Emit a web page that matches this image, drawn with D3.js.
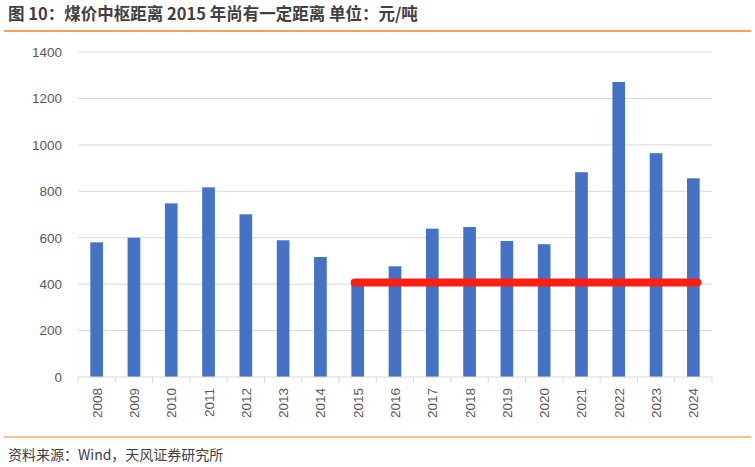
<!DOCTYPE html>
<html>
<head>
<meta charset="utf-8">
<script src="https://cdn.jsdelivr.net/npm/d3@7"></script>
<style>
  body { margin: 0; background: #fff; }
  text { font-family: "Liberation Sans", "Noto Sans CJK SC", sans-serif; }
  .cjk { font-family: "Noto Sans CJK SC", sans-serif; }
</style>
</head>
<body>
<svg id="chart" width="755" height="467"></svg>
<script>
// data
const years = ['2008', '2009', '2010', '2011', '2012', '2013', '2014', '2015', '2016',
  '2017', '2018', '2019', '2020', '2021', '2022', '2023', '2024']
const prices = [580, 600, 748, 817, 701, 589, 517, 407, 477, 639, 646, 586, 572, 882, 1271, 964, 856]
const yTicks = [0, 200, 400, 600, 800, 1000, 1200, 1400]
// reference level: 2015 price, drawn from 2015 to 2024
const refYears = years.slice(7)
const refLevel = 407

const svg = d3.select('#chart')
const margin = { top: 52, right: 43, bottom: 90, left: 78 }
const W = 755, H = 467
const innerW = W - margin.left - margin.right
const innerH = H - margin.top - margin.bottom

// title + orange rules
svg.append('text')
  .attr('class', 'cjk')
  .attr('x', 8).attr('y', 20)
  .attr('font-size', 16.5).attr('font-weight', 'bold')
  .attr('fill', '#404040')
  .text('图 10：煤价中枢距离 2015 年尚有一定距离 单位：元/吨')

svg.append('line')
  .attr('x1', 4).attr('x2', 751).attr('y1', 31).attr('y2', 31)
  .attr('stroke', '#f5821f').attr('stroke-width', 1.5)

svg.append('line')
  .attr('x1', 4).attr('x2', 751).attr('y1', 437).attr('y2', 437)
  .attr('stroke', '#f5821f').attr('stroke-width', 1.2)

svg.append('text')
  .attr('class', 'cjk')
  .attr('x', 8).attr('y', 460)
  .attr('font-size', 14)
  .attr('fill', '#404040')
  .text('资料来源：Wind，天风证券研究所')

const g = svg.append('g').attr('transform', `translate(${margin.left},${margin.top})`)

const x = d3.scaleBand().domain(years).range([0, innerW]).paddingInner(0.66).paddingOuter(0.33)
const y = d3.scaleLinear().domain([0, 1400]).range([innerH, 0])

// gridlines
g.append('g')
  .selectAll('line')
  .data(yTicks.slice(1))
  .join('line')
  .attr('x1', 0).attr('x2', innerW)
  .attr('y1', d => y(d)).attr('y2', d => y(d))
  .attr('stroke', '#d9d9d9').attr('stroke-width', 1)

// y axis labels
const yAxis = g.append('g')
  .call(d3.axisLeft(y).tickValues(yTicks).tickFormat(d3.format('d')).tickSize(0).tickPadding(16))
yAxis.select('.domain').remove()
yAxis.selectAll('text')
  .attr('font-size', 13.5).attr('fill', '#595959')

// bars
g.append('g')
  .selectAll('rect')
  .data(years)
  .join('rect')
  .attr('x', d => x(d))
  .attr('width', x.bandwidth())
  .attr('y', (d, i) => y(prices[i]))
  .attr('height', (d, i) => innerH - y(prices[i]))
  .attr('fill', '#4472c4')

// x axis with ticks at category boundaries
const step = x.step()
const xAxis = g.append('g').attr('transform', `translate(0,${innerH})`)
xAxis.append('line')
  .attr('x1', 0).attr('x2', innerW)
  .attr('stroke', '#d9d9d9')
xAxis.selectAll('.tk')
  .data(d3.range(years.length + 1))
  .join('line')
  .attr('class', 'tk')
  .attr('x1', i => i * step).attr('x2', i => i * step)
  .attr('y1', 0).attr('y2', 6)
  .attr('stroke', '#d9d9d9')
xAxis.selectAll('text')
  .data(years)
  .join('text')
  .attr('transform', d => `translate(${x(d) + x.bandwidth() / 2 + 5},${11}) rotate(-90)`)
  .attr('text-anchor', 'end')
  .attr('font-size', 13.5).attr('fill', '#595959')
  .text(d => d)

// red reference line, hand-drawn look: starts just left of the 2015 bar centre,
// runs a little past the 2024 bar centre
const last = refYears.length - 1
const line = d3.line()
  .x((d, i) => x(d) + x.bandwidth() / 2 + (i === 0 ? -3 : i === last ? 4 : 0))
  .y(() => y(refLevel))
g.append('path')
  .datum(refYears)
  .attr('d', line)
  .attr('fill', 'none')
  .attr('stroke', '#ff1f12')
  .attr('stroke-width', 8)
  .attr('stroke-linecap', 'round')
</script>
</body>
</html>
